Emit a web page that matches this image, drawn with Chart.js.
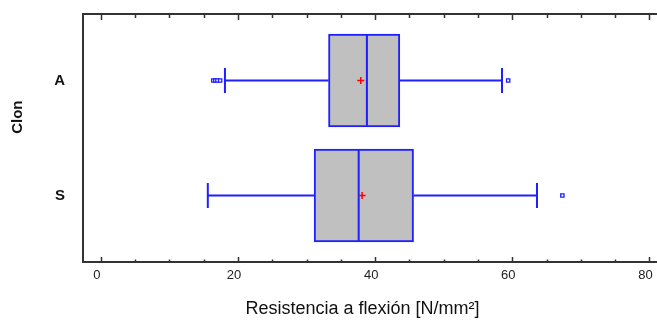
<!DOCTYPE html>
<html>
<head>
<meta charset="utf-8">
<script src="https://cdn.jsdelivr.net/npm/chart.js@4/dist/chart.umd.min.js"></script>
<style>
  html, body { margin: 0; padding: 0; background: #fff; }
  #wrap { width: 657px; height: 320px; position: relative; }
</style>
</head>
<body>
<div id="wrap"><canvas id="boxChart"></canvas></div>
<script>
// Box-and-whisker plot, Resistencia a flexión by Clon

const CLONES = ["A", "S"];
const Q1 = [33.2, 31.1];
const Q3 = [43.6, 45.6];
const MEDIAN = [38.8, 37.6];
const MEAN = [37.9, 38.1];
const WHISK_LO = [18.1, 15.6];
const WHISK_HI = [58.5, 63.6];
const OUTLIERS = [[16.4, 16.7, 17.0, 17.4, 59.4], [67.3]];
const X_TICKS = [0, 20, 40, 60, 80];
const MINOR_STEP = 5;

const BLUE = "#1f1fff";
const AXIS = "#333333";
const BOX_HALF = 0.404;   // half box height, in category units
const CAP_HALF = 0.108;   // half whisker cap height

function seg(x1, y1, x2, y2) {
  return {
    type: "line",
    data: [{ x: x1, y: y1 }, { x: x2, y: y2 }],
    borderColor: BLUE,
    borderWidth: 2,
    pointRadius: 0,
    fill: false,
    order: 1,
  };
}

// drop the automatic label padding so the plot area sits where it should
function noPad(s) {
  s.paddingTop = 0;
  s.paddingBottom = 0;
  s.paddingLeft = 0;
  s.paddingRight = 0;
}

const datasets = [];

// outliers + means on top
datasets.push({
  type: "scatter",
  data: OUTLIERS.flatMap((arr, i) => arr.map((v) => ({ x: v, y: i + 1 }))),
  pointStyle: "rect",
  pointRadius: 2.3,
  borderColor: BLUE,
  borderWidth: 1.3,
  backgroundColor: "#ffffff",
  order: 0,
});
datasets.push({
  type: "scatter",
  data: MEAN.map((v, i) => ({ x: v, y: i + 1 })),
  pointStyle: "cross",
  pointRadius: 3.5,
  borderColor: "#ff0000",
  borderWidth: 1.5,
  order: 0,
});

CLONES.forEach((c, i) => {
  const y = i + 1;
  datasets.push(seg(WHISK_LO[i], y, Q1[i], y));
  datasets.push(seg(Q3[i], y, WHISK_HI[i], y));
  datasets.push(seg(WHISK_LO[i], y - CAP_HALF, WHISK_LO[i], y + CAP_HALF));
  datasets.push(seg(WHISK_HI[i], y - CAP_HALF, WHISK_HI[i], y + CAP_HALF));
  datasets.push(seg(MEDIAN[i], y - BOX_HALF, MEDIAN[i], y + BOX_HALF));
});

// boxes (floating horizontal bars)
datasets.push({
  type: "bar",
  indexAxis: "y",
  data: CLONES.map((c, i) => ({ x: [Q1[i], Q3[i]], y: i + 1 })),
  backgroundColor: "#c0c0c0",
  borderColor: BLUE,
  borderWidth: 2,
  borderSkipped: false,
  barThickness: 93,
  order: 2,
});

// top frame line and inward tick marks
const frameTicks = {
  id: "frameTicks",
  afterDraw(chart) {
    const { ctx, chartArea } = chart;
    const xs = chart.scales.x;
    ctx.save();
    ctx.strokeStyle = AXIS;
    ctx.lineWidth = 2;
    ctx.beginPath();
    ctx.moveTo(chartArea.left - 1, chartArea.top);
    ctx.lineTo(chartArea.right, chartArea.top);
    ctx.stroke();
    ctx.lineWidth = 1.5;
    for (let v = X_TICKS[0]; v <= X_TICKS[X_TICKS.length - 1]; v += MINOR_STEP) {
      const px = Math.round(xs.getPixelForValue(v)) + 0.5;
      const major = X_TICKS.includes(v);
      ctx.beginPath();
      ctx.moveTo(px, chartArea.bottom);
      ctx.lineTo(px, chartArea.bottom - (major ? 5 : 2.5));
      ctx.moveTo(px, chartArea.top);
      ctx.lineTo(px, chartArea.top + (major ? 6 : 4));
      ctx.stroke();
    }
    ctx.restore();
  },
};

new Chart(document.getElementById("boxChart"), {
  type: "bar",
  data: { datasets },
  options: {
    responsive: true,
    maintainAspectRatio: false,
    animation: false,
    events: [],
    layout: { autoPadding: false, padding: { top: 14, right: 0, left: 0, bottom: 0 } },
    plugins: { legend: { display: false }, tooltip: { enabled: false } },
    scales: {
      x: {
        type: "linear",
        offset: false,
        min: -2.6,
        max: 81.1,
        afterBuildTicks: (s) => { s.ticks = X_TICKS.map((v) => ({ value: v })); },
        afterFit: (s) => { s.height = 58; noPad(s); },
        grid: { display: false, drawTicks: false, offset: false },
        border: { display: true, color: AXIS, width: 2 },
        ticks: {
          color: "#222",
          padding: 6,
          labelOffset: -4,
          font: { family: "Liberation Sans, Arial", size: 13 },
        },
        title: {
          display: true,
          text: "Resistencia a flexión [N/mm²]   ",
          color: "#111",
          padding: { top: 0, bottom: 0 },
          font: { family: "Liberation Sans, Arial", size: 18 },
        },
      },
      y: {
        type: "linear",
        offset: false,
        reverse: true,
        min: 0.422,
        max: 2.578,
        afterBuildTicks: (s) => { s.ticks = CLONES.map((c, i) => ({ value: i + 1 })); },
        afterFit: (s) => { s.width = 83; noPad(s); },
        grid: { display: false, drawTicks: false, offset: false },
        border: { display: true, color: AXIS, width: 2 },
        ticks: {
          color: "#111",
          padding: 18,
          callback: (v) => CLONES[v - 1],
          font: { family: "Liberation Sans, Arial", size: 15, weight: "bold" },
        },
        title: {
          display: true,
          text: "          Clon",
          color: "#111",
          padding: { top: 9, bottom: 0 },
          font: { family: "Liberation Sans, Arial", size: 15, weight: "bold" },
        },
      },
    },
  },
  plugins: [frameTicks],
});
</script>
</body>
</html>
